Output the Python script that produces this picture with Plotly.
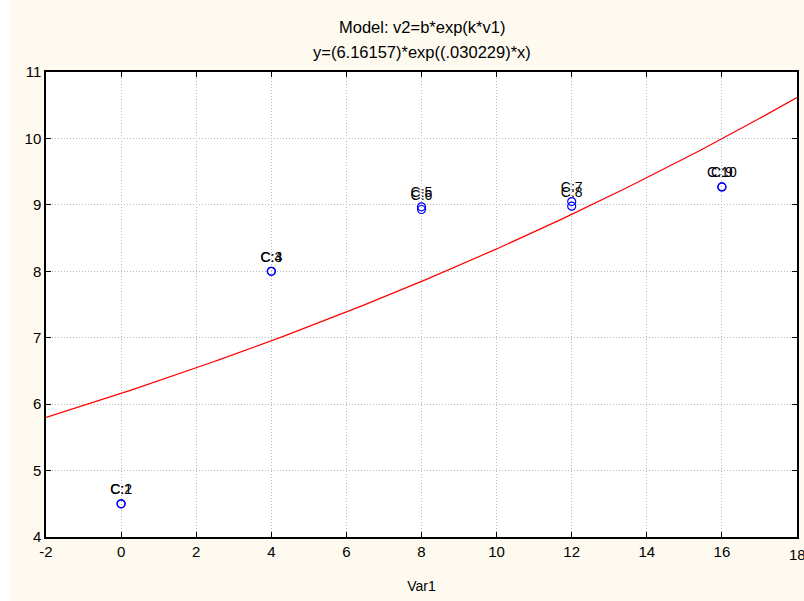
import numpy as np
import plotly.graph_objects as go

# Observations (Var1, v2) with case labels
case_labels = ["C:1", "C:2", "C:3", "C:4", "C:5", "C:6", "C:7", "C:8", "C:9", "C:10"]
var1 = [0, 0, 4, 4, 8, 8, 12, 12, 16, 16]
var2 = [4.5, 4.5, 8.0, 8.0, 8.97, 8.93, 9.05, 8.98, 9.27, 9.27]

# Fitted model parameters: v2 = b*exp(k*v1)
b_param = 6.16157
k_param = 0.030229

x_range = [-2, 18]
y_range = [4, 11]
x_ticks = [-2, 0, 2, 4, 6, 8, 10, 12, 14, 16, 18]
x_tick_text = ["-2", "0", "2", "4", "6", "8", "10", "12", "14", "16", "18"]
y_ticks = [4, 5, 6, 7, 8, 9, 10, 11]
y_tick_text = ["4", "5", "6", "7", "8", "9", "10", "11"]

title_lines = ["Model: v2=b*exp(k*v1)", "y=(6.16157)*exp((.030229)*x)"]

xs = np.linspace(x_range[0], x_range[1], 300)
ys = b_param * np.exp(k_param * xs)

font_family = "Liberation Sans, Arial, sans-serif"
tick_size = 15
cream = "#FFFAF0"

# plot-area geometry in pixels
L, R, T, B = 46, 7, 72, 64
W, H = 804, 601
pw, ph = W - L - R, H - T - B

fig = go.Figure()

fig.add_trace(go.Scatter(
    x=xs, y=ys, mode="lines",
    line=dict(color="#FF0000", width=1.2),
    hoverinfo="skip", showlegend=False,
))

fig.add_trace(go.Scatter(
    x=var1, y=var2, mode="markers+text",
    text=case_labels, textposition="top center",
    textfont=dict(family=font_family, size=14, color="#000000"),
    marker=dict(symbol="circle-open", size=8, color="#0000FF", line=dict(width=1.2)),
    showlegend=False,
))

axis_common = dict(
    showline=True, linecolor="#000000", linewidth=1.5, mirror="allticks",
    ticks="inside", ticklen=5, tickcolor="#000000", tickwidth=1,
    showgrid=True, gridcolor="#B8B8B8", griddash="1px,2px", gridwidth=1,
    zeroline=False, automargin=False,
    tickfont=dict(family=font_family, size=tick_size, color="#000000"),
)

# the last x label sits on the page edge; plotly would drop it as a tick
# label, so it is drawn as an annotation under its tick
fig.update_xaxes(range=x_range, tickvals=x_ticks,
                 ticktext=x_tick_text[:-1] + [""], **axis_common,
                 title=dict(text="Var1", font=dict(family=font_family, size=14, color="#000000"),
                            standoff=22))
fig.update_yaxes(range=y_range, tickvals=y_ticks, ticktext=y_tick_text, **axis_common)

annotations = [dict(
    text=x_tick_text[-1], xref="x", yref="paper",
    x=x_ticks[-1], y=-17 / ph, xanchor="center", yanchor="middle",
    showarrow=False, font=dict(family=font_family, size=tick_size, color="#000000"),
)]
for line, py in zip(title_lines, [27, 52]):
    annotations.append(dict(
        text=line, xref="paper", yref="paper",
        x=0.5, y=(H - B - py) / ph, xanchor="center", yanchor="middle",
        showarrow=False, font=dict(family=font_family, size=16.5, color="#000000"),
    ))

fig.update_layout(
    width=W, height=H,
    margin=dict(l=L, r=R, t=T, b=B),
    paper_bgcolor=cream, plot_bgcolor="#FFFFFF",
    annotations=annotations,
    shapes=[dict(
        type="rect", xref="paper", yref="paper",
        x0=-L / pw, x1=-(L - 10) / pw, y0=-B / ph, y1=1 + T / ph,
        fillcolor="#FFFFFF", line=dict(width=0), layer="below",
    )],
)

fig.write_html("out.html")
